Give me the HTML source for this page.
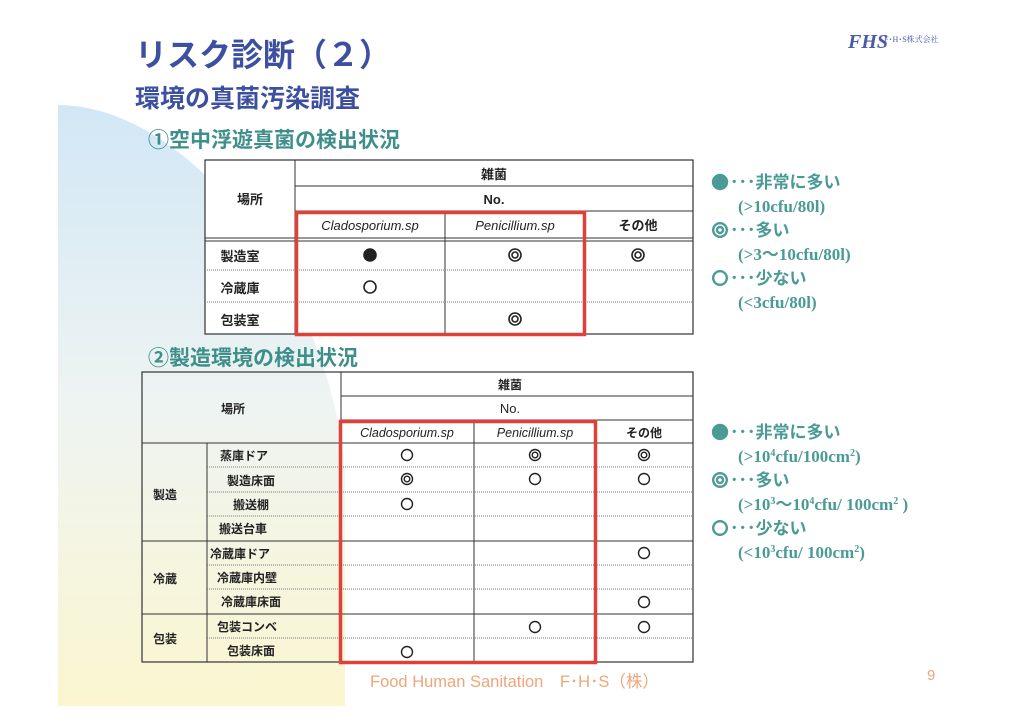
<!DOCTYPE html>
<html><head><meta charset="utf-8"><style>
html,body{margin:0;padding:0;background:#fff;}
svg{display:block;}
.jp{font-family:"Liberation Sans","Noto Sans CJK JP",sans-serif;font-weight:bold;}
.it{font-family:"Liberation Sans",sans-serif;font-style:italic;}
.lg{font-family:"Liberation Serif","Noto Sans CJK JP",serif;font-weight:bold;fill:#4a9a96;font-size:17px;}
</style></head><body>
<svg width="1024" height="724" viewBox="0 0 1024 724" xmlns="http://www.w3.org/2000/svg">
<defs>
<linearGradient id="bg" x1="0" y1="0" x2="0" y2="1">
<stop offset="0" stop-color="#d2e7f6"/><stop offset="0.5" stop-color="#eef4f2"/><stop offset="1" stop-color="#fbf6d0"/>
</linearGradient>
</defs>
<path d="M58,105 C190,105 330,290 345,470 L345,706 L58,706 Z" fill="url(#bg)"/>

<!-- titles -->
<text x="135" y="66" class="jp" font-size="32" fill="#3d50a0">リスク診断（２）</text>
<text x="135" y="107" class="jp" font-size="25" fill="#3d50a0">環境の真菌汚染調査</text>
<text x="148" y="147" class="jp" font-size="21" fill="#3e8f8a">①空中浮遊真菌の検出状況</text>
<text x="148" y="365" class="jp" font-size="21" fill="#3e8f8a">②製造環境の検出状況</text>

<!-- logo -->
<text x="848" y="48" font-family="Liberation Serif,serif" font-style="italic" font-weight="bold" font-size="20" fill="#4a5aa8">FHS</text>
<text x="884" y="42" font-family="Liberation Serif,'Noto Serif CJK SC',serif" font-size="8" fill="#4a5aa8">F･H･S株式会社</text>

<!-- table 1 -->
<g stroke="#333" fill="none">
<rect x="205" y="160" width="488" height="174" fill="#fff" stroke-width="1.2"/>
<line x1="295" y1="160" x2="295" y2="334"/>
<line x1="295" y1="186" x2="693" y2="186"/>
<line x1="295" y1="211" x2="693" y2="211"/>
<line x1="445" y1="211" x2="445" y2="334"/>
<line x1="585" y1="211" x2="585" y2="334"/>
<line x1="205" y1="238" x2="693" y2="238"/>
<line x1="205" y1="241" x2="693" y2="241"/>
<line x1="205" y1="270" x2="693" y2="270" stroke-dasharray="1 1" stroke="#777"/>
<line x1="205" y1="302" x2="693" y2="302" stroke-dasharray="1 1" stroke="#777"/>
</g>
<rect x="296.5" y="212.5" width="288" height="122" fill="none" stroke="#e0403a" stroke-width="3.5"/>
<g class="jp" font-size="13" fill="#222" text-anchor="middle">
<text x="250" y="204">場所</text>
<text x="494" y="179">雑菌</text>
<text x="494" y="204">No.</text>
<text x="638" y="230">その他</text>
<text x="240" y="261">製造室</text>
<text x="240" y="293">冷蔵庫</text>
<text x="240" y="325">包装室</text>
</g>
<g class="it" font-size="13" fill="#222" text-anchor="middle">
<text x="370" y="230">Cladosporium.sp</text>
<text x="515" y="230">Penicillium.sp</text>
</g>
<g stroke="#222" stroke-width="1.6" fill="none">
<circle cx="370" cy="255" r="6" fill="#222"/>
<circle cx="515" cy="255" r="6"/><circle cx="515" cy="255" r="3"/>
<circle cx="638" cy="255" r="6"/><circle cx="638" cy="255" r="3"/>
<circle cx="370" cy="287" r="6"/>
<circle cx="515" cy="319" r="6"/><circle cx="515" cy="319" r="3"/>
</g>

<!-- table 2 -->
<g stroke="#333" fill="none">
<rect x="142" y="372" width="551" height="290" stroke-width="1.2"/>
<line x1="341" y1="372" x2="341" y2="443"/>
<line x1="341" y1="396" x2="693" y2="396"/>
<line x1="341" y1="420" x2="693" y2="420"/>
<line x1="474" y1="420" x2="474" y2="662"/>
<line x1="596" y1="420" x2="596" y2="662"/>
<line x1="207" y1="443" x2="207" y2="662"/>
<line x1="142" y1="443" x2="693" y2="443"/>
<line x1="142" y1="541" x2="693" y2="541"/>
<line x1="142" y1="614" x2="693" y2="614"/>
<g stroke-dasharray="1 1" stroke="#777">
<line x1="207" y1="467" x2="693" y2="467"/>
<line x1="207" y1="492" x2="693" y2="492"/>
<line x1="207" y1="516" x2="693" y2="516"/>
<line x1="207" y1="565" x2="693" y2="565"/>
<line x1="207" y1="589" x2="693" y2="589"/>
<line x1="207" y1="638" x2="693" y2="638"/>
</g>
</g>
<rect x="340.5" y="421.5" width="255" height="241" fill="none" stroke="#e0403a" stroke-width="3.5"/>
<g class="jp" font-size="12" fill="#222" text-anchor="middle">
<text x="233" y="413">場所</text>
<text x="510" y="389">雑菌</text>
<text x="644" y="437">その他</text>
<text x="165" y="499">製造</text>
<text x="165" y="583">冷蔵</text>
<text x="165" y="643">包装</text>
<text x="244" y="460">蒸庫ドア</text>
<text x="251" y="485">製造床面</text>
<text x="251" y="509">搬送棚</text>
<text x="243" y="533">搬送台車</text>
<text x="240" y="558">冷蔵庫ドア</text>
<text x="247" y="582">冷蔵庫内壁</text>
<text x="251" y="606">冷蔵庫床面</text>
<text x="247" y="631">包装コンベ</text>
<text x="251" y="655">包装床面</text>
</g>
<text x="510" y="413" font-family="Liberation Sans,sans-serif" font-size="13" fill="#222" text-anchor="middle">No.</text>
<g class="it" font-size="12.5" fill="#222" text-anchor="middle">
<text x="407" y="437">Cladosporium.sp</text>
<text x="535" y="437">Penicillium.sp</text>
</g>
<g stroke="#222" stroke-width="1.4" fill="none">
<circle cx="407" cy="455" r="5.5"/>
<circle cx="535" cy="455" r="5.5"/><circle cx="535" cy="455" r="2.8"/>
<circle cx="644" cy="455" r="5.5"/><circle cx="644" cy="455" r="2.8"/>
<circle cx="407" cy="479" r="5.5"/><circle cx="407" cy="479" r="2.8"/>
<circle cx="535" cy="479" r="5.5"/>
<circle cx="644" cy="479" r="5.5"/>
<circle cx="407" cy="504" r="5.5"/>
<circle cx="644" cy="553" r="5.5"/>
<circle cx="644" cy="602" r="5.5"/>
<circle cx="535" cy="627" r="5.5"/>
<circle cx="644" cy="627" r="5.5"/>
<circle cx="407" cy="652" r="5.5"/>
</g>

<!-- legend symbols -->
<g fill="none" stroke="#4a9a96" stroke-width="2.4">
<circle cx="720" cy="182" r="7" fill="#4a9a96"/>
<circle cx="720" cy="230" r="6.8"/><circle cx="720" cy="230" r="3"/>
<circle cx="720" cy="278" r="6.8"/>
<circle cx="720" cy="432" r="7" fill="#4a9a96"/>
<circle cx="720" cy="480" r="6.8"/><circle cx="720" cy="480" r="3"/>
<circle cx="720" cy="528" r="6.8"/>
</g>
<!-- legend 1 -->
<g class="lg">
<text x="730" y="188">･･･非常に多い</text>
<text x="738" y="212">(&gt;10cfu/80l)</text>
<text x="730" y="236">･･･多い</text>
<text x="738" y="260">(&gt;3～10cfu/80l)</text>
<text x="730" y="284">･･･少ない</text>
<text x="738" y="308">(&lt;3cfu/80l)</text>
</g>
<!-- legend 2 -->
<g class="lg">
<text x="730" y="438">･･･非常に多い</text>
<text x="738" y="462">(&gt;10<tspan font-size="10" dy="-6">4</tspan><tspan dy="6">cfu/100cm</tspan><tspan font-size="10" dy="-6">2</tspan><tspan dy="6">)</tspan></text>
<text x="730" y="486">･･･多い</text>
<text x="738" y="510">(&gt;10<tspan font-size="10" dy="-6">3</tspan><tspan dy="6">～10</tspan><tspan font-size="10" dy="-6">4</tspan><tspan dy="6">cfu/ 100cm</tspan><tspan font-size="10" dy="-6">2</tspan><tspan dy="6"> )</tspan></text>
<text x="730" y="534">･･･少ない</text>
<text x="738" y="558">(&lt;10<tspan font-size="10" dy="-6">3</tspan><tspan dy="6">cfu/ 100cm</tspan><tspan font-size="10" dy="-6">2</tspan><tspan dy="6">)</tspan></text>
</g>

<!-- footer -->
<text x="370" y="687" font-family="Liberation Sans,'Noto Sans CJK JP',sans-serif" font-size="16.5" fill="#eea57a">Food Human Sanitation　F･H･S（株）</text>
<text x="927" y="680" font-family="Liberation Sans,sans-serif" font-size="15" fill="#eea57a">9</text>
</svg>
</body></html>
